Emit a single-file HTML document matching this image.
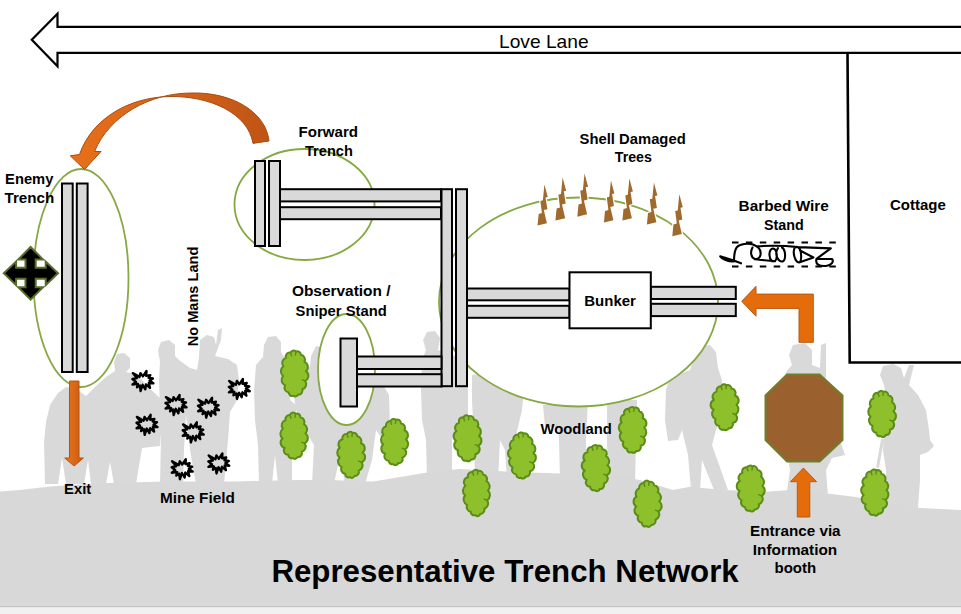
<!DOCTYPE html><html><head><meta charset="utf-8"><style>html,body{margin:0;padding:0;background:#fff;overflow:hidden}svg{display:block}text{font-family:"Liberation Sans", sans-serif}</style></head><body>
<svg width="961" height="614" viewBox="0 0 961 614">
<defs><linearGradient id="og" x1="0" x2="1" y1="0" y2="0"><stop offset="0" stop-color="#EC7620"/><stop offset="1" stop-color="#C9590F"/></linearGradient><linearGradient id="cg" x1="0" x2="1" y1="0" y2="0"><stop offset="0" stop-color="#E8701A"/><stop offset="0.6" stop-color="#D0601A"/><stop offset="1" stop-color="#BF5414"/></linearGradient></defs>
<rect width="961" height="614" fill="#fff"/>
<g fill="#D9D9D9"><polygon points="45,484 44,442 46,422 50,405 58,393 66,387 76,389 86,396 96,386 106,377 115,371 114,362 117,354 124,353 130,358 130,368 126,372 138,375 146,385 160,398 162,420 160,446 142,448 136,484 114,484 110,462 106,484 91,484 88,460 84,484 66,484 62,458 58,484"/>
<polygon points="160,484 161,440 160,410 159,380 160,362 158,350 161,342 169,340 175,345 175,356 179,360 190,368 197,370 199,357 200,340 207,335 214,337 216,345 218,330 222,328 221,340 215,356 228,359 237,365 239,380 237,400 230,412 228,440 224,484 196,484 190,450 186,415 184,450 183,484"/>

<polygon points="259,484 258,445 255,420 254,390 256,365 263,357 264,345 268,337 276,336 281,342 281,352 286,360 289,380 290,400 296,405 296,414 290,418 292,445 292,484 278,484 275,455 272,484"/>
<polygon points="312,484 314,445 305,430 296,410 293,390 300,378 310,366 311,356 316,346 323,348 324,360 335,365 360,372 380,380 389,395 390,425 383,440 376,430 372,460 365,484 345,484 340,455 334,484"/>
<polygon points="427,480 426,440 422,420 421,390 422,360 426,350 423,340 427,332 435,331 440,338 438,350 455,356 465,365 468,390 468,420 455,428 452,440 452,480"/>
<polygon points="475,480 474,440 472,400 472,375 500,370 525,380 522,410 515,440 513,480 507,480 505,450 500,440 498,480"/>
<polygon points="543,405 588,400 586,440 586,480 560,480 559,440 558,427 545,427"/>
<polygon points="607,400 637,400 636,440 635,487 608,487 607,440"/>
<polygon points="691,490 688,455 682,430 678,440 668,441 665,420 666,390 670,377 690,370 695,355 700,346 710,345 716,352 718,368 722,380 724,410 716,430 712,445 728,490 714,490 702,460 700,490"/>
<polygon points="786,497 790,470 785,440 780,400 786,372 792,365 789,355 793,345 805,343 812,350 812,365 820,368 821,345 826,343 826,385 835,410 840,440 845,455 832,458 826,470 828,497"/>
<polygon points="885,508 886,470 883,450 885,420 886,395 884,385 880,375 883,366 893,364 901,368 904,378 909,365 914,365 909,385 918,395 926,410 929,430 930,440 934,446 928,452 920,455 920,480 918,508"/>
<line x1="882.7" y1="438.7" x2="877.5" y2="467.4" stroke="#D9D9D9" stroke-width="3"/>
</g>
<polygon fill="#D8D8D8" points="0,491.6 20,490 50,486.6 100,483.3 166,481.6 233,481.6 300,480 330,480 373,481.6 430,472 460,469 506,471.6 553,473.3 610,475 640,480 673,490 690,486.7 723,490 767,491.7 790,490 827,493.4 854,496.7 894,503.4 920,508 961,510 961,603 0,603"/>
<rect x="0" y="603" width="961" height="3" fill="#DADADA"/>
<rect x="0" y="606" width="961" height="1.5" fill="#C4C4C4"/>
<rect x="0" y="607.5" width="961" height="7" fill="#F1F1F1"/>
<path d="M970,26.9 L57.5,26.9 L57.5,13.8 L31.8,39.8 L57.5,66.2 L57.5,52.8 L970,52.8" fill="#fff" stroke="#000" stroke-width="2.2" stroke-linejoin="miter"/>
<text x="499" y="47.7" font-size="19" font-weight="normal" fill="#000" textLength="89.6" lengthAdjust="spacingAndGlyphs" >Love Lane</text>
<path d="M847.5,53 L849.7,362.5 L961,362.5" fill="none" stroke="#000" stroke-width="2.6"/>
<text x="890" y="209.6" font-size="14" font-weight="bold" fill="#000" textLength="55.8" lengthAdjust="spacingAndGlyphs" >Cottage</text>
<ellipse cx="81" cy="278" rx="47.5" ry="109" fill="#fff" stroke="#86A943" stroke-width="1.8"/>
<ellipse cx="304.5" cy="204.5" rx="70" ry="55.5" fill="none" stroke="#86A943" stroke-width="1.8"/>
<ellipse cx="346.5" cy="369.5" rx="28.5" ry="55.5" fill="#fff" stroke="#86A943" stroke-width="1.8"/>
<ellipse cx="578.5" cy="302" rx="139.5" ry="104.5" fill="#fff" stroke="#86A943" stroke-width="1.8"/>
<rect x="62" y="183.5" width="10.7" height="188.5" fill="#D9D9D9" stroke="#000" stroke-width="2"/>
<rect x="76.8" y="183.5" width="10.8" height="188.5" fill="#D9D9D9" stroke="#000" stroke-width="2"/>
<rect x="255" y="161" width="10" height="85" fill="#D9D9D9" stroke="#000" stroke-width="2"/>
<rect x="269" y="161" width="11" height="85" fill="#D9D9D9" stroke="#000" stroke-width="2"/>
<rect x="280" y="189.2" width="161" height="12.2" fill="#D9D9D9" stroke="#000" stroke-width="2"/>
<rect x="280" y="207.2" width="161" height="12" fill="#D9D9D9" stroke="#000" stroke-width="2"/>
<rect x="441.5" y="189.2" width="10.5" height="197" fill="#D9D9D9" stroke="#000" stroke-width="2"/>
<rect x="456" y="189.2" width="11" height="197" fill="#D9D9D9" stroke="#000" stroke-width="2"/>
<rect x="340.5" y="338.5" width="16.5" height="68" fill="#D9D9D9" stroke="#000" stroke-width="2"/>
<rect x="357" y="356.5" width="84.5" height="12.5" fill="#D9D9D9" stroke="#000" stroke-width="2"/>
<rect x="357" y="374.2" width="84.5" height="12.3" fill="#D9D9D9" stroke="#000" stroke-width="2"/>
<rect x="467" y="288.5" width="102.5" height="11.8" fill="#D9D9D9" stroke="#000" stroke-width="2"/>
<rect x="467" y="305.8" width="102.5" height="12" fill="#D9D9D9" stroke="#000" stroke-width="2"/>
<rect x="650.8" y="286.8" width="85" height="12.2" fill="#D9D9D9" stroke="#000" stroke-width="2"/>
<rect x="650.8" y="303.8" width="85" height="12.3" fill="#D9D9D9" stroke="#000" stroke-width="2"/>
<rect x="569.5" y="272.3" width="81.3" height="56" fill="#fff" stroke="#000" stroke-width="2"/>
<text x="584.3" y="305.9" font-size="14.5" font-weight="bold" fill="#000" textLength="51.6" lengthAdjust="spacingAndGlyphs" >Bunker</text>
<path d="M30.6,247 L43,259.4 L35.7,259.4 L35.7,267.8 L45.7,267.8 L45.7,261.5 L58,273.3 L45.7,285.2 L45.7,278.8 L35.7,278.8 L35.7,287.3 L43,287.3 L30.6,299.7 L18.3,287.3 L25.5,287.3 L25.5,278.8 L16.1,278.8 L16.1,285.2 L3.8,273.3 L16.1,261.5 L16.1,267.8 L25.5,267.8 L25.5,259.4 L18.3,259.4 Z" fill="#000" stroke="#5A6E2C" stroke-width="2" stroke-linejoin="miter"/>
<path d="M269,141 C266,112 232,92 192,93 C150,93 110,115 94.5,151.5 L101,151.5 L84.5,169.5 L70.3,155.8 L79.5,154.5 C92,118 130,97 170,96.5 C210,96 248,113 253,143.4 Z" fill="url(#cg)" stroke="#A94D10" stroke-width="1"/>
<path d="M69.5,381 L79,381 L79,458 L83.4,458 L74.1,466 L64.7,458 L69.5,458 Z" fill="url(#og)" stroke="#B55512" stroke-width="1"/>
<text x="64" y="493.7" font-size="14" font-weight="bold" fill="#000" textLength="27.2" lengthAdjust="spacingAndGlyphs" >Exit</text>
<path d="M741.7,301.25 L756,286.3 L756,294.1 L813.3,294.1 L813.3,342.3 L799,342.3 L799,308.4 L756,308.4 L756,316.2 Z" fill="#E46C0A" stroke="#B85A14" stroke-width="1"/>
<path d="M803.4,468 L816.6,481.7 L809.8,481.7 L809.8,517 L797.3,517 L797.3,481.7 L790.4,481.7 Z" fill="#E46C0A" stroke="#B85A14" stroke-width="1"/>
<polygon points="787,374.5 819.6,374.5 842.5,395.5 842.5,440 819.6,461.5 787,461.5 765.5,440 765.5,395.5" fill="#9A612F" stroke="#6E7F2C" stroke-width="2"/>
<polygon points="544.4,184.5 547.8,197.1 545.5,197.6 547.4,209.2 543.8,210.1 546.9,223.2 537.5,225.5 538.7,214.1 541.9,213.1 540.4,200.9 542.9,200.2" fill="#A06A2E" stroke="#fff" stroke-width="2.5" paint-order="stroke"/>
<polygon points="562.6,177.6 566.2,190.8 563.8,191.3 565.7,203.5 562.0,204.5 565.2,218.2 555.4,220.6 556.6,208.6 560.0,207.6 558.4,194.8 561.0,194.1" fill="#A06A2E" stroke="#fff" stroke-width="2.5" paint-order="stroke"/>
<polygon points="584.5,173.5 588.1,186.8 585.7,187.3 587.6,199.5 583.9,200.5 587.1,214.3 577.3,216.7 578.5,204.6 581.9,203.6 580.3,190.8 582.9,190.1" fill="#A06A2E" stroke="#fff" stroke-width="2.5" paint-order="stroke"/>
<polygon points="610.9,180.6 614.4,193.5 612.1,194.0 613.9,205.9 610.3,206.9 613.4,220.3 603.9,222.6 605.0,210.9 608.4,209.9 606.8,197.4 609.3,196.7" fill="#A06A2E" stroke="#fff" stroke-width="2.5" paint-order="stroke"/>
<polygon points="629.4,178.6 632.9,191.5 630.6,192.0 632.4,203.9 628.8,204.9 631.9,218.3 622.4,220.6 623.5,208.9 626.9,207.9 625.3,195.4 627.8,194.7" fill="#A06A2E" stroke="#fff" stroke-width="2.5" paint-order="stroke"/>
<polygon points="653.9,182.5 657.4,195.4 655.1,195.9 656.9,207.9 653.3,208.8 656.4,222.3 646.9,224.6 648.0,212.9 651.4,211.9 649.8,199.3 652.3,198.7" fill="#A06A2E" stroke="#fff" stroke-width="2.5" paint-order="stroke"/>
<polygon points="679.3,194.3 682.8,207.2 680.5,207.7 682.3,219.6 678.7,220.6 681.8,234.0 672.3,236.3 673.4,224.6 676.8,223.6 675.2,211.1 677.7,210.4" fill="#A06A2E" stroke="#fff" stroke-width="2.5" paint-order="stroke"/>
<line x1="732" y1="242.5" x2="837" y2="242.5" stroke="#000" stroke-width="2" stroke-dasharray="6.5,7.4"/>
<line x1="732" y1="266.5" x2="837" y2="266.5" stroke="#000" stroke-width="2" stroke-dasharray="6.5,7.4"/>
<path d="M720.2,256.3 L733,260.3 L741,263.3 M720.2,256.3 C722,259 728,261.8 734,261.5 C734,256 734.5,250 737,247 C740,244 748,243 753,244.5 C757,246 760.5,249 760.5,252.5 C761,256.5 759,259.5 755,259 C751,258 750,252 752.5,247.5 M755,259.3 L775,261.3 C778,258 777,249 773,248.5 C769,249 768,257 772,261.3 M757,246.3 C770,245.5 788,246 798.2,247.1 L830.8,248.4 L816.5,258.8 L832,259 C834,261.5 832,265 826,266 C819,266.5 815,264 816.5,258.8 M778,248 C774,254 778,262 782.6,261.5 C786,260 786,250 782,247.5 M795,247.3 C792,252 795,262 799,262.5 C802,262 802,250 798.2,247.1 M799,262.5 L813.5,257.5 L800,250.5" fill="none" stroke="#000" stroke-width="2.1" stroke-linejoin="round" stroke-linecap="round"/>
<polygon points="142.9,376.4 146.5,371.0 146.2,375.9 150.3,375.1 148.6,377.8 152.9,378.5 149.5,380.7 153.4,383.3 148.8,383.0 150.0,387.8 146.0,384.4 145.3,389.3 142.6,384.8 140.6,391.0 139.9,385.5 137.0,387.3 137.9,383.9 132.5,384.5 136.0,381.9 132.4,379.0 136.9,378.1 132.8,373.1 139.5,376.9 140.5,373.1" fill="none" stroke="#000" stroke-width="2.4" stroke-linejoin="round"/>
<polygon points="239.3,384.3 242.9,378.9 242.6,383.8 246.7,383.0 245.0,385.7 249.3,386.4 245.9,388.6 249.8,391.2 245.2,390.9 246.4,395.7 242.4,392.3 241.7,397.2 239.0,392.7 237.0,398.9 236.3,393.4 233.4,395.2 234.3,391.8 228.9,392.4 232.4,389.8 228.8,386.9 233.3,386.0 229.2,381.0 235.9,384.8 236.9,381.0" fill="none" stroke="#000" stroke-width="2.4" stroke-linejoin="round"/>
<polygon points="176.0,400.4 179.6,395.0 179.3,399.9 183.4,399.1 181.7,401.8 186.0,402.5 182.6,404.7 186.5,407.3 181.9,407.0 183.1,411.8 179.1,408.4 178.4,413.3 175.7,408.8 173.7,415.0 173.0,409.5 170.1,411.3 171.0,407.9 165.6,408.5 169.1,405.9 165.5,403.0 170.0,402.1 165.9,397.1 172.6,400.9 173.6,397.1" fill="none" stroke="#000" stroke-width="2.4" stroke-linejoin="round"/>
<polygon points="208.5,403.1 212.1,397.7 211.8,402.6 215.9,401.8 214.2,404.5 218.5,405.2 215.1,407.4 219.0,410.0 214.4,409.7 215.6,414.5 211.6,411.1 210.9,416.0 208.2,411.5 206.2,417.7 205.5,412.2 202.6,414.0 203.5,410.6 198.1,411.2 201.6,408.6 198.0,405.7 202.5,404.8 198.4,399.8 205.1,403.6 206.1,399.8" fill="none" stroke="#000" stroke-width="2.4" stroke-linejoin="round"/>
<polygon points="147.0,420.2 150.6,414.8 150.3,419.7 154.4,418.9 152.7,421.6 157.0,422.3 153.6,424.5 157.5,427.1 152.9,426.8 154.1,431.6 150.1,428.2 149.4,433.1 146.7,428.6 144.7,434.8 144.0,429.3 141.1,431.1 142.0,427.7 136.6,428.3 140.1,425.7 136.5,422.8 141.0,421.9 136.9,416.9 143.6,420.7 144.6,416.9" fill="none" stroke="#000" stroke-width="2.4" stroke-linejoin="round"/>
<polygon points="193.2,427.7 196.8,422.3 196.5,427.2 200.6,426.4 198.9,429.1 203.2,429.8 199.8,432.0 203.7,434.6 199.1,434.3 200.3,439.1 196.3,435.7 195.6,440.6 192.9,436.1 190.9,442.3 190.2,436.8 187.3,438.6 188.2,435.2 182.8,435.8 186.3,433.2 182.7,430.3 187.2,429.4 183.1,424.4 189.8,428.2 190.8,424.4" fill="none" stroke="#000" stroke-width="2.4" stroke-linejoin="round"/>
<polygon points="182.2,464.6 185.8,459.2 185.5,464.1 189.6,463.3 187.9,466.0 192.2,466.7 188.8,468.9 192.7,471.5 188.1,471.2 189.3,476.0 185.3,472.6 184.6,477.5 181.9,473.0 179.9,479.2 179.2,473.7 176.3,475.5 177.2,472.1 171.8,472.7 175.3,470.1 171.7,467.2 176.2,466.3 172.1,461.3 178.8,465.1 179.8,461.3" fill="none" stroke="#000" stroke-width="2.4" stroke-linejoin="round"/>
<polygon points="218.8,458.8 222.4,453.4 222.1,458.3 226.2,457.5 224.5,460.2 228.8,460.9 225.4,463.1 229.3,465.7 224.7,465.4 225.9,470.2 221.9,466.8 221.2,471.7 218.5,467.2 216.5,473.4 215.8,467.9 212.9,469.7 213.8,466.3 208.4,466.9 211.9,464.3 208.3,461.4 212.8,460.5 208.7,455.5 215.4,459.3 216.4,455.5" fill="none" stroke="#000" stroke-width="2.4" stroke-linejoin="round"/>
<path d="M295.9,351.5 A3.8,3.8 0 0 1 300.9,354.8 A4.9,4.9 0 0 1 304.5,361.8 A5.6,5.6 0 0 1 306.0,371.1 A5.7,5.7 0 0 1 305.1,380.9 A5.3,5.3 0 0 1 302.3,389.3 A4.0,4.0 0 0 1 298.1,394.6 A3.1,3.1 0 0 1 293.3,395.7 A3.3,3.3 0 0 1 288.7,392.4 A4.7,4.7 0 0 1 285.1,385.4 A5.8,5.8 0 0 1 283.1,376.1 A6.3,6.3 0 0 1 283.4,366.3 A5.3,5.3 0 0 1 286.0,357.9 A4.0,4.0 0 0 1 290.5,352.6 A3.4,3.4 0 0 1 295.9,351.5Z" fill="#8DC02B" stroke="#5B8C18" stroke-width="2" stroke-linejoin="round"/>
<path d="M295.9,351.5 L295.5,355.0 M305.1,380.9 L302.2,379.8 M290.5,352.6 L291.5,355.9 " fill="none" stroke="#5B8C18" stroke-width="1.4" stroke-linecap="round"/>
<path d="M295.4,413.9 A3.4,3.4 0 0 1 300.4,417.2 A5.0,5.0 0 0 1 304.0,424.2 A5.9,5.9 0 0 1 305.5,433.5 A5.7,5.7 0 0 1 304.6,443.3 A5.3,5.3 0 0 1 301.8,451.7 A4.0,4.0 0 0 1 297.6,457.0 A3.0,3.0 0 0 1 292.8,458.1 A3.5,3.5 0 0 1 288.2,454.8 A4.4,4.4 0 0 1 284.6,447.8 A5.3,5.3 0 0 1 282.6,438.5 A6.2,6.2 0 0 1 282.9,428.7 A5.2,5.2 0 0 1 285.5,420.3 A4.3,4.3 0 0 1 290.0,415.0 A3.0,3.0 0 0 1 295.4,413.9Z" fill="#8DC02B" stroke="#5B8C18" stroke-width="2" stroke-linejoin="round"/>
<path d="M295.4,413.9 L295.0,417.4 M304.6,443.3 L301.7,442.2 M290.0,415.0 L291.0,418.3 " fill="none" stroke="#5B8C18" stroke-width="1.4" stroke-linecap="round"/>
<path d="M352.4,432.9 A3.9,3.9 0 0 1 357.4,436.2 A5.1,5.1 0 0 1 361.0,443.2 A5.2,5.2 0 0 1 362.5,452.5 A5.5,5.5 0 0 1 361.6,462.3 A5.6,5.6 0 0 1 358.8,470.7 A4.2,4.2 0 0 1 354.6,476.0 A3.0,3.0 0 0 1 349.8,477.1 A3.3,3.3 0 0 1 345.2,473.8 A4.8,4.8 0 0 1 341.6,466.8 A5.8,5.8 0 0 1 339.6,457.5 A6.0,6.0 0 0 1 339.9,447.7 A5.0,5.0 0 0 1 342.5,439.3 A4.1,4.1 0 0 1 347.0,434.0 A3.2,3.2 0 0 1 352.4,432.9Z" fill="#8DC02B" stroke="#5B8C18" stroke-width="2" stroke-linejoin="round"/>
<path d="M352.4,432.9 L352.0,436.4 M361.6,462.3 L358.7,461.2 M347.0,434.0 L348.0,437.3 " fill="none" stroke="#5B8C18" stroke-width="1.4" stroke-linecap="round"/>
<path d="M395.9,419.9 A3.5,3.5 0 0 1 400.9,423.2 A4.8,4.8 0 0 1 404.5,430.2 A5.5,5.5 0 0 1 406.0,439.5 A6.0,6.0 0 0 1 405.1,449.3 A5.4,5.4 0 0 1 402.3,457.7 A3.7,3.7 0 0 1 398.1,463.0 A2.7,2.7 0 0 1 393.3,464.1 A3.6,3.6 0 0 1 388.7,460.8 A4.5,4.5 0 0 1 385.1,453.8 A5.5,5.5 0 0 1 383.1,444.5 A6.4,6.4 0 0 1 383.4,434.7 A5.2,5.2 0 0 1 386.0,426.3 A4.4,4.4 0 0 1 390.5,421.0 A3.3,3.3 0 0 1 395.9,419.9Z" fill="#8DC02B" stroke="#5B8C18" stroke-width="2" stroke-linejoin="round"/>
<path d="M395.9,419.9 L395.5,423.4 M405.1,449.3 L402.2,448.2 M390.5,421.0 L391.5,424.3 " fill="none" stroke="#5B8C18" stroke-width="1.4" stroke-linecap="round"/>
<path d="M468.9,416.4 A3.5,3.5 0 0 1 473.9,419.7 A4.4,4.4 0 0 1 477.5,426.7 A5.6,5.6 0 0 1 479.0,436.0 A5.6,5.6 0 0 1 478.1,445.8 A4.9,4.9 0 0 1 475.3,454.2 A4.0,4.0 0 0 1 471.1,459.5 A3.2,3.2 0 0 1 466.3,460.6 A3.6,3.6 0 0 1 461.7,457.3 A4.9,4.9 0 0 1 458.1,450.3 A5.4,5.4 0 0 1 456.1,441.0 A5.9,5.9 0 0 1 456.4,431.2 A5.1,5.1 0 0 1 459.0,422.8 A3.9,3.9 0 0 1 463.5,417.5 A3.1,3.1 0 0 1 468.9,416.4Z" fill="#8DC02B" stroke="#5B8C18" stroke-width="2" stroke-linejoin="round"/>
<path d="M468.9,416.4 L468.5,419.9 M478.1,445.8 L475.2,444.7 M463.5,417.5 L464.5,420.8 " fill="none" stroke="#5B8C18" stroke-width="1.4" stroke-linecap="round"/>
<path d="M477.9,470.9 A3.7,3.7 0 0 1 482.9,474.2 A4.9,4.9 0 0 1 486.5,481.2 A5.9,5.9 0 0 1 488.0,490.5 A6.3,6.3 0 0 1 487.1,500.3 A5.5,5.5 0 0 1 484.3,508.7 A4.3,4.3 0 0 1 480.1,514.0 A2.7,2.7 0 0 1 475.3,515.1 A3.4,3.4 0 0 1 470.7,511.8 A5.1,5.1 0 0 1 467.1,504.8 A5.9,5.9 0 0 1 465.1,495.5 A6.3,6.3 0 0 1 465.4,485.7 A4.9,4.9 0 0 1 468.0,477.3 A4.1,4.1 0 0 1 472.5,472.0 A3.2,3.2 0 0 1 477.9,470.9Z" fill="#8DC02B" stroke="#5B8C18" stroke-width="2" stroke-linejoin="round"/>
<path d="M477.9,470.9 L477.5,474.4 M487.1,500.3 L484.2,499.2 M472.5,472.0 L473.5,475.3 " fill="none" stroke="#5B8C18" stroke-width="1.4" stroke-linecap="round"/>
<path d="M523.4,433.5 A3.8,3.8 0 0 1 528.4,436.8 A5.0,5.0 0 0 1 532.0,443.8 A5.6,5.6 0 0 1 533.5,453.1 A5.7,5.7 0 0 1 532.6,462.9 A4.9,4.9 0 0 1 529.8,471.3 A4.1,4.1 0 0 1 525.6,476.6 A2.9,2.9 0 0 1 520.8,477.7 A3.5,3.5 0 0 1 516.2,474.4 A4.6,4.6 0 0 1 512.6,467.4 A6.0,6.0 0 0 1 510.6,458.1 A5.7,5.7 0 0 1 510.9,448.3 A5.5,5.5 0 0 1 513.5,439.9 A4.3,4.3 0 0 1 518.0,434.6 A3.2,3.2 0 0 1 523.4,433.5Z" fill="#8DC02B" stroke="#5B8C18" stroke-width="2" stroke-linejoin="round"/>
<path d="M523.4,433.5 L523.0,437.0 M532.6,462.9 L529.7,461.8 M518.0,434.6 L519.0,437.9 " fill="none" stroke="#5B8C18" stroke-width="1.4" stroke-linecap="round"/>
<path d="M597.4,445.9 A3.5,3.5 0 0 1 602.4,449.2 A4.4,4.4 0 0 1 606.0,456.2 A5.8,5.8 0 0 1 607.5,465.5 A5.5,5.5 0 0 1 606.6,475.3 A5.3,5.3 0 0 1 603.8,483.7 A3.9,3.9 0 0 1 599.6,489.0 A2.7,2.7 0 0 1 594.8,490.1 A3.4,3.4 0 0 1 590.2,486.8 A4.4,4.4 0 0 1 586.6,479.8 A5.7,5.7 0 0 1 584.6,470.5 A5.5,5.5 0 0 1 584.9,460.7 A4.9,4.9 0 0 1 587.5,452.3 A4.1,4.1 0 0 1 592.0,447.0 A3.5,3.5 0 0 1 597.4,445.9Z" fill="#8DC02B" stroke="#5B8C18" stroke-width="2" stroke-linejoin="round"/>
<path d="M597.4,445.9 L597.0,449.4 M606.6,475.3 L603.7,474.2 M592.0,447.0 L593.0,450.3 " fill="none" stroke="#5B8C18" stroke-width="1.4" stroke-linecap="round"/>
<path d="M634.2,407.9 A3.5,3.5 0 0 1 639.2,411.2 A5.1,5.1 0 0 1 642.8,418.2 A5.3,5.3 0 0 1 644.3,427.5 A6.1,6.1 0 0 1 643.4,437.3 A4.9,4.9 0 0 1 640.6,445.7 A3.9,3.9 0 0 1 636.4,451.0 A3.2,3.2 0 0 1 631.6,452.1 A3.2,3.2 0 0 1 627.0,448.8 A4.8,4.8 0 0 1 623.4,441.8 A5.7,5.7 0 0 1 621.4,432.5 A5.8,5.8 0 0 1 621.7,422.7 A5.3,5.3 0 0 1 624.3,414.3 A3.9,3.9 0 0 1 628.8,409.0 A3.5,3.5 0 0 1 634.2,407.9Z" fill="#8DC02B" stroke="#5B8C18" stroke-width="2" stroke-linejoin="round"/>
<path d="M634.2,407.9 L633.8,411.4 M643.4,437.3 L640.5,436.2 M628.8,409.0 L629.8,412.3 " fill="none" stroke="#5B8C18" stroke-width="1.4" stroke-linecap="round"/>
<path d="M726.4,385.2 A3.6,3.6 0 0 1 731.4,388.5 A4.6,4.6 0 0 1 735.0,395.5 A5.3,5.3 0 0 1 736.5,404.8 A6.3,6.3 0 0 1 735.6,414.6 A4.9,4.9 0 0 1 732.8,423.0 A4.0,4.0 0 0 1 728.6,428.3 A3.1,3.1 0 0 1 723.8,429.4 A3.1,3.1 0 0 1 719.2,426.1 A4.8,4.8 0 0 1 715.6,419.1 A5.8,5.8 0 0 1 713.6,409.8 A5.4,5.4 0 0 1 713.9,400.0 A5.1,5.1 0 0 1 716.5,391.6 A4.3,4.3 0 0 1 721.0,386.3 A3.3,3.3 0 0 1 726.4,385.2Z" fill="#8DC02B" stroke="#5B8C18" stroke-width="2" stroke-linejoin="round"/>
<path d="M726.4,385.2 L726.0,388.7 M735.6,414.6 L732.7,413.5 M721.0,386.3 L722.0,389.6 " fill="none" stroke="#5B8C18" stroke-width="1.4" stroke-linecap="round"/>
<path d="M649.1,481.9 A3.7,3.7 0 0 1 654.1,485.2 A4.7,4.7 0 0 1 657.7,492.2 A5.7,5.7 0 0 1 659.2,501.5 A5.6,5.6 0 0 1 658.3,511.3 A5.6,5.6 0 0 1 655.5,519.7 A4.3,4.3 0 0 1 651.3,525.0 A3.0,3.0 0 0 1 646.5,526.1 A3.2,3.2 0 0 1 641.9,522.8 A4.7,4.7 0 0 1 638.3,515.8 A5.5,5.5 0 0 1 636.3,506.5 A5.6,5.6 0 0 1 636.6,496.7 A5.7,5.7 0 0 1 639.2,488.3 A4.5,4.5 0 0 1 643.7,483.0 A3.0,3.0 0 0 1 649.1,481.9Z" fill="#8DC02B" stroke="#5B8C18" stroke-width="2" stroke-linejoin="round"/>
<path d="M649.1,481.9 L648.7,485.4 M658.3,511.3 L655.4,510.2 M643.7,483.0 L644.7,486.3 " fill="none" stroke="#5B8C18" stroke-width="1.4" stroke-linecap="round"/>
<path d="M752.4,466.4 A3.6,3.6 0 0 1 757.4,469.7 A4.8,4.8 0 0 1 761.0,476.7 A6.1,6.1 0 0 1 762.5,486.0 A5.9,5.9 0 0 1 761.6,495.8 A5.3,5.3 0 0 1 758.8,504.2 A4.1,4.1 0 0 1 754.6,509.5 A2.8,2.8 0 0 1 749.8,510.6 A3.4,3.4 0 0 1 745.2,507.3 A4.8,4.8 0 0 1 741.6,500.3 A6.0,6.0 0 0 1 739.6,491.0 A5.5,5.5 0 0 1 739.9,481.2 A5.1,5.1 0 0 1 742.5,472.8 A3.9,3.9 0 0 1 747.0,467.5 A3.5,3.5 0 0 1 752.4,466.4Z" fill="#8DC02B" stroke="#5B8C18" stroke-width="2" stroke-linejoin="round"/>
<path d="M752.4,466.4 L752.0,469.9 M761.6,495.8 L758.7,494.7 M747.0,467.5 L748.0,470.8 " fill="none" stroke="#5B8C18" stroke-width="1.4" stroke-linecap="round"/>
<path d="M883.4,391.9 A3.6,3.6 0 0 1 888.4,395.2 A4.8,4.8 0 0 1 892.0,402.2 A5.8,5.8 0 0 1 893.5,411.5 A5.6,5.6 0 0 1 892.6,421.3 A4.9,4.9 0 0 1 889.8,429.7 A4.0,4.0 0 0 1 885.6,435.0 A2.8,2.8 0 0 1 880.8,436.1 A3.6,3.6 0 0 1 876.2,432.8 A4.9,4.9 0 0 1 872.6,425.8 A5.8,5.8 0 0 1 870.6,416.5 A6.0,6.0 0 0 1 870.9,406.7 A5.4,5.4 0 0 1 873.5,398.3 A3.9,3.9 0 0 1 878.0,393.0 A3.3,3.3 0 0 1 883.4,391.9Z" fill="#8DC02B" stroke="#5B8C18" stroke-width="2" stroke-linejoin="round"/>
<path d="M883.4,391.9 L883.0,395.4 M892.6,421.3 L889.7,420.2 M878.0,393.0 L879.0,396.3 " fill="none" stroke="#5B8C18" stroke-width="1.4" stroke-linecap="round"/>
<path d="M876.4,470.5 A3.5,3.5 0 0 1 881.4,473.8 A4.9,4.9 0 0 1 885.0,480.8 A5.8,5.8 0 0 1 886.5,490.1 A6.3,6.3 0 0 1 885.6,499.9 A5.0,5.0 0 0 1 882.8,508.3 A3.9,3.9 0 0 1 878.6,513.6 A2.8,2.8 0 0 1 873.8,514.7 A3.2,3.2 0 0 1 869.2,511.4 A4.9,4.9 0 0 1 865.6,504.4 A5.4,5.4 0 0 1 863.6,495.1 A5.9,5.9 0 0 1 863.9,485.3 A5.0,5.0 0 0 1 866.5,476.9 A4.0,4.0 0 0 1 871.0,471.6 A3.3,3.3 0 0 1 876.4,470.5Z" fill="#8DC02B" stroke="#5B8C18" stroke-width="2" stroke-linejoin="round"/>
<path d="M876.4,470.5 L876.0,474.0 M885.6,499.9 L882.7,498.8 M871.0,471.6 L872.0,474.9 " fill="none" stroke="#5B8C18" stroke-width="1.4" stroke-linecap="round"/>
<text x="298.5" y="136.9" font-size="14" font-weight="bold" fill="#000" textLength="59.5" lengthAdjust="spacingAndGlyphs" >Forward</text>
<text x="305" y="155.6" font-size="14" font-weight="bold" fill="#000" textLength="47.8" lengthAdjust="spacingAndGlyphs" >Trench</text>
<text x="5.1" y="183.7" font-size="14" font-weight="bold" fill="#000" textLength="48.3" lengthAdjust="spacingAndGlyphs" >Enemy</text>
<text x="4.5" y="202.8" font-size="14" font-weight="bold" fill="#000" textLength="49.8" lengthAdjust="spacingAndGlyphs" >Trench</text>
<text x="291.9" y="296" font-size="14" font-weight="bold" fill="#000" textLength="98.6" lengthAdjust="spacingAndGlyphs" >Observation /</text>
<text x="295.6" y="315.6" font-size="14" font-weight="bold" fill="#000" textLength="91.2" lengthAdjust="spacingAndGlyphs" >Sniper Stand</text>
<text x="579.6" y="143.8" font-size="14" font-weight="bold" fill="#000" textLength="106.1" lengthAdjust="spacingAndGlyphs" >Shell Damaged</text>
<text x="614.8" y="162" font-size="14" font-weight="bold" fill="#000" textLength="37.1" lengthAdjust="spacingAndGlyphs" >Trees</text>
<text x="738.6" y="210.5" font-size="14" font-weight="bold" fill="#000" textLength="90.2" lengthAdjust="spacingAndGlyphs" >Barbed Wire</text>
<text x="764" y="229.6" font-size="14" font-weight="bold" fill="#000" textLength="39.8" lengthAdjust="spacingAndGlyphs" >Stand</text>
<text x="540.6" y="433.8" font-size="14" font-weight="bold" fill="#000" textLength="71.2" lengthAdjust="spacingAndGlyphs" >Woodland</text>
<text x="159.9" y="503.4" font-size="14" font-weight="bold" fill="#000" textLength="74.9" lengthAdjust="spacingAndGlyphs" >Mine Field</text>
<text x="750" y="535.9" font-size="14" font-weight="bold" fill="#000" textLength="90.6" lengthAdjust="spacingAndGlyphs" >Entrance via</text>
<text x="752.8" y="554.6" font-size="14" font-weight="bold" fill="#000" textLength="84.4" lengthAdjust="spacingAndGlyphs" >Information</text>
<text x="774.5" y="573.3" font-size="14" font-weight="bold" fill="#000" textLength="41.7" lengthAdjust="spacingAndGlyphs" >booth</text>
<text x="0" y="0" font-size="14" font-weight="bold" fill="#000" textLength="99.6" lengthAdjust="spacingAndGlyphs" transform="translate(198.3,346.3) rotate(-90)">No Mans Land</text>
<text x="271.4" y="582" font-size="31" font-weight="bold" fill="#000" textLength="467.3" lengthAdjust="spacingAndGlyphs" >Representative Trench Network</text>
</svg></body></html>
